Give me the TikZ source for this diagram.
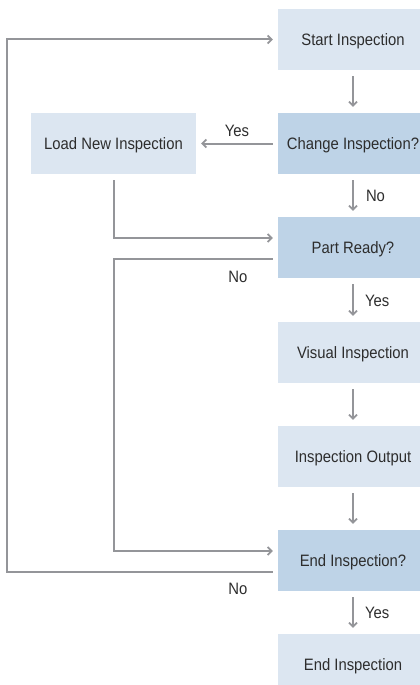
\documentclass[tikz,border=0pt]{standalone}
\usepackage{fontspec}
\setmainfont{Liberation Sans}[FakeStretch=0.9]
\usetikzlibrary{arrows.meta,positioning}
\definecolor{boxlight}{RGB}{220,230,241}
\definecolor{boxdark}{RGB}{190,211,231}
\definecolor{linegray}{RGB}{148,149,153}
\definecolor{txt}{RGB}{45,45,45}
\tikzset{
  flowbox/.style={rectangle, fill=boxlight, draw=none, minimum width=150pt, minimum height=61pt,
    inner sep=0pt, text=txt, font=\fontsize{16.5pt}{18pt}\selectfont, text height=12pt, text depth=0pt},
  decbox/.style={flowbox, fill=boxdark},
  arr/.style={draw=linegray, line width=2pt, -{Straight Barb[length=4pt,width=8pt,line width=1.7pt]}},
  lbl/.style={text=txt, font=\fontsize{16.5pt}{18pt}\selectfont, inner sep=0pt, text height=12pt, text depth=0pt},
}
\begin{document}
\begin{tikzpicture}[x=1pt,y=-1pt]
\useasboundingbox (0,0) rectangle (420,685);
\clip (0,0) rectangle (420,685);
\node[flowbox] (start) at (353,39.5) {Start Inspection};
\node[decbox] (change) at (353,143.5) {Change Inspection?};
\node[flowbox, minimum width=165pt] (load) at (113.5,143.5) {Load New Inspection};
\node[decbox] (part) at (353,247.5) {Part Ready?};
\node[flowbox] (visual) at (353,352.5) {Visual Inspection};
\node[flowbox] (output) at (353,456.5) {Inspection Output};
\node[decbox] (endq) at (353,560.5) {End Inspection?};
\node[flowbox] (endi) at (353,664.5) {End Inspection};

\draw[arr, shorten <=6pt, shorten >=6pt] (start.south) -- (change.north);
\draw[arr, shorten <=5pt, shorten >=5pt] (change.west) -- node[lbl, above=6pt] (lyes1) {Yes} (load.east);
\draw[arr, shorten <=6pt, shorten >=6pt] (change.south) -- node[lbl, right=12pt] (lno1) {No} (part.north);
\draw[arr, shorten <=6pt] (load.south) |- ([xshift=-5pt,yshift=9.5pt]part.west);
\draw[arr] ([xshift=-5pt,yshift=-11.5pt]part.west) -- node[lbl, below=10pt, pos=0.22] (lno2) {No} ++(-159,0)
  |- ([xshift=-5pt,yshift=9.5pt]endq.west);
\draw[arr, shorten <=6pt, shorten >=6pt] (part.south) -- node[lbl, right=11pt] (lyes2) {Yes} (visual.north);
\draw[arr, shorten <=6pt, shorten >=6pt] (visual.south) -- (output.north);
\draw[arr, shorten <=6pt, shorten >=6pt] (output.south) -- (endq.north);
\draw[arr] ([xshift=-5pt,yshift=-11.5pt]endq.west) -- node[lbl, below=9pt, pos=0.1316] (lno3) {No} ++(-266,0)
  |- ([xshift=-5pt]start.west);
\draw[arr, shorten <=6pt, shorten >=6pt] (endq.south) -- node[lbl, right=11pt] (lyes3) {Yes} (endi.north);
\end{tikzpicture}
\end{document}
